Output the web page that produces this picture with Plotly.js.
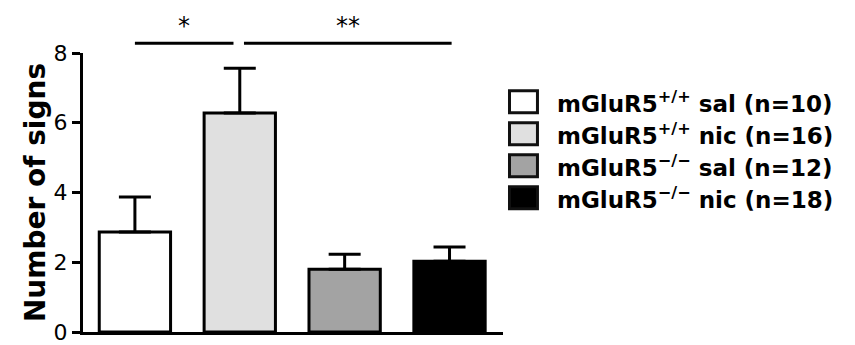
<!DOCTYPE html>
<html>
<head>
<meta charset="utf-8">
<script src="https://cdn.plot.ly/plotly-3.0.1.min.js"></script>
<style>html,body{margin:0;padding:0;background:#fff;}#chart{width:855px;height:345px;}</style>
</head>
<body>
<div id="chart"></div>
<script>
// ---- data ----
var groups = ["mGluR5<sup>+/+</sup> sal (n=10)", "mGluR5<sup>+/+</sup> nic (n=16)", "mGluR5<sup>\u2212/\u2212</sup> sal (n=12)", "mGluR5<sup>\u2212/\u2212</sup> nic (n=18)"];
var means = [2.87, 6.28, 1.80, 2.03];
var sems = [1.0, 1.28, 0.43, 0.41];
var fills = ["#ffffff", "#e0e0e0", "#a3a3a3", "#000000"];
var yTicks = [0, 2, 4, 6, 8];
var sigLabels = ["*", "**"];
var sigSpans = [[0, 0.94], [1.04, 3.02]];

// ---- layout geometry ----
var L = 82.5, R = 352, T = 52.7, B = 13;
var W = 855 - L - R, H = 345 - T - B;
function px2paperX(px) { return (px - L) / W; }
function px2paperY(py) { return 1 - (py - T) / H; }

var xIdx = groups.map(function (_, i) { return i; });
var FONT = "DejaVu Sans";

var traces = [{
  type: "bar",
  x: xIdx,
  y: means,
  width: 0.68,
  marker: { color: fills, line: { color: "#000", width: 3 } },
  error_y: { type: "data", symmetric: false, array: sems, arrayminus: sems.map(function () { return 0; }),
             color: "#000", thickness: 3, width: 16 },
  showlegend: false,
  hoverinfo: "none"
}];

var shapes = [];
var annotations = [];

// significance bars
sigSpans.forEach(function (s, i) {
  shapes.push({ type: "line", xref: "x", yref: "paper", x0: s[0], x1: s[1],
    y0: px2paperY(43), y1: px2paperY(43), line: { color: "#000", width: 3 } });
  annotations.push({ xref: "x", yref: "paper", x: (s[0] + s[1]) / 2, y: px2paperY(42),
    text: sigLabels[i], showarrow: false, xanchor: "center", yanchor: "bottom",
    font: { family: FONT, size: 24, color: "#000" } });
});

// legend (manual, large swatches)
groups.forEach(function (g, i) {
  var top = 89 + i * 32;
  shapes.push({ type: "rect", xref: "paper", yref: "paper",
    x0: px2paperX(509.5), x1: px2paperX(537.5),
    y0: px2paperY(top + 1.5), y1: px2paperY(top + 23.5),
    fillcolor: fills[i], line: { color: "#111", width: 3 } });
  annotations.push({ xref: "paper", yref: "paper", x: px2paperX(555), y: px2paperY(top + 12.5),
    text: g, showarrow: false, xanchor: "left", yanchor: "middle",
    font: { family: FONT, size: 23, color: "#000", weight: "bold" } });
});

var layout = {
  width: 855, height: 345,
  margin: { l: L, r: R, t: T, b: B, pad: 0 },
  paper_bgcolor: "#fff", plot_bgcolor: "#fff",
  showlegend: false,
  xaxis: { range: [-0.495, 3.51], showticklabels: false, ticks: "", showgrid: false, zeroline: false,
           showline: true, linecolor: "#000", linewidth: 3, fixedrange: true },
  yaxis: { range: [0, 8], tickvals: yTicks, ticktext: yTicks.map(String), ticks: "outside", ticklen: 8, tickwidth: 3,
           tickcolor: "#000", showgrid: false, zeroline: false, showline: true, linecolor: "#000", linewidth: 3,
           tickfont: { family: FONT, size: 22, color: "#000" },
           title: { text: "Number of signs", standoff: 0, font: { family: FONT, size: 28, color: "#000", weight: "bold" } },
           fixedrange: true },
  shapes: shapes,
  annotations: annotations
};

Plotly.newPlot("chart", traces, layout, { staticPlot: true, displayModeBar: false });
</script>
</body>
</html>
